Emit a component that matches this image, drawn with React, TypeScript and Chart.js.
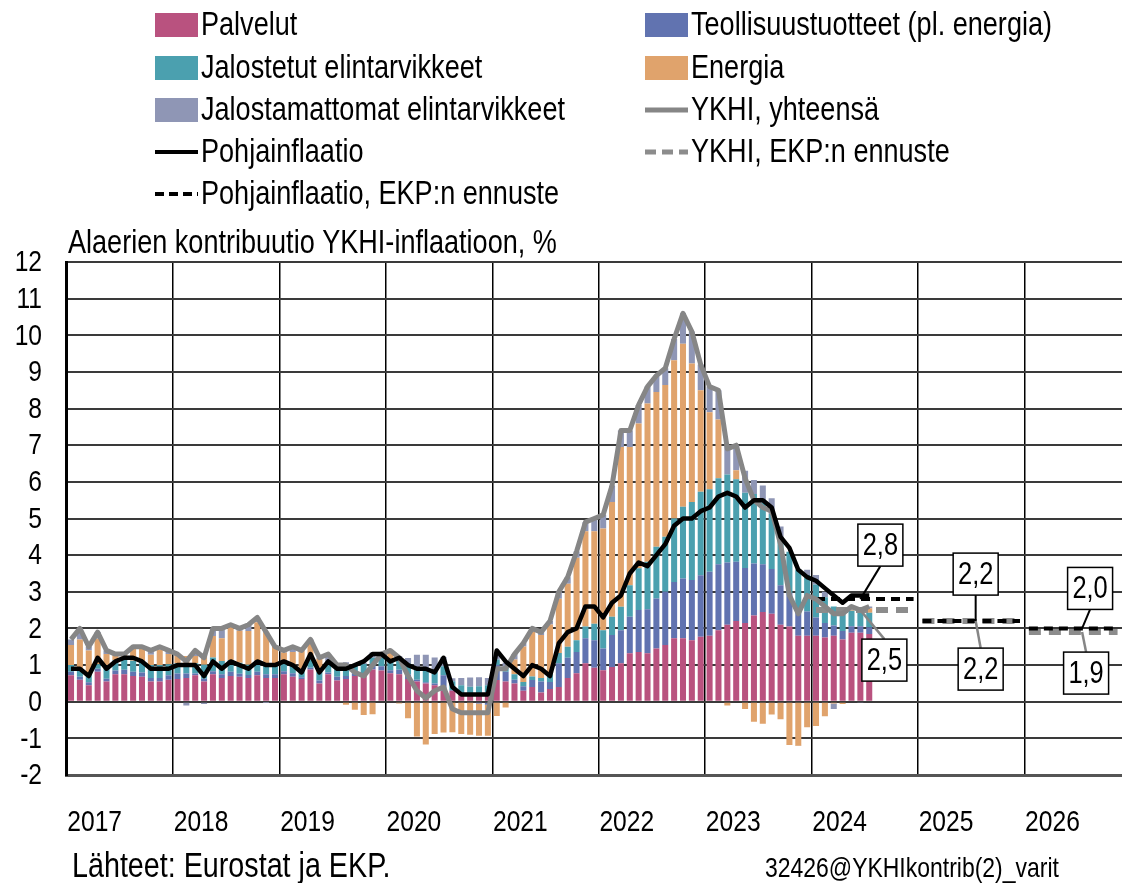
import React, { useEffect, useRef } from "react";
import { Chart, registerables } from "chart.js";

Chart.register(...registerables);

const FONT = '"Liberation Sans", Arial, sans-serif';
const NARROW = 0.82; // horizontal squeeze to imitate a narrow face

// ---- Data ----
const yearLabels = ["2017", "2018", "2019", "2020", "2021", "2022", "2023", "2024", "2025", "2026"];
const yTickValues = [-2, -1, 0, 1, 2, 3, 4, 5, 6, 7, 8, 9, 10, 11, 12];
const monthsShown = 119; // Jan 2017 .. Nov 2026

const palvelut = [
  0.72, 0.60, 0.45, 0.82, 0.55, 0.75, 0.75, 0.70, 0.68, 0.55, 0.55, 0.60,
  0.62, 0.65, 0.72, 0.55, 0.75, 0.65, 0.70, 0.68, 0.65, 0.72, 0.65, 0.65,
  0.75, 0.68, 0.62, 0.88, 0.50, 0.75, 0.58, 0.62, 0.70, 0.70, 0.88, 0.85,
  0.78, 0.75, 0.62, 0.55, 0.50, 0.45, 0.30, 0.30, 0.22, 0.18, 0.22, 0.25,
  0.59, 0.55, 0.50, 0.30, 0.40, 0.25, 0.35, 0.40, 0.65, 0.78, 1.05, 0.93,
  0.86, 0.95, 1.05, 1.32, 1.36, 1.32, 1.45, 1.55, 1.73, 1.73, 1.68, 1.77,
  1.80, 1.95, 2.10, 2.20, 2.15, 2.35, 2.45, 2.40, 2.10, 2.05, 1.80, 1.80,
  1.80, 1.75, 1.80, 1.70, 1.88, 1.88, 1.85,
];
const teollisuus = [
  0.10, 0.08, 0.08, 0.08, 0.08, 0.10, 0.12, 0.12, 0.12, 0.10, 0.10, 0.12,
  0.15, 0.12, 0.05, 0.08, 0.08, 0.10, 0.12, 0.08, 0.08, 0.10, 0.10, 0.10,
  0.08, 0.10, 0.05, 0.05, 0.08, 0.05, 0.10, 0.08, 0.08, 0.08, 0.10, 0.12,
  0.08, 0.12, 0.12, 0.05, 0.03, 0.05, 0.42, 0.02, 0.01, 0.01, -0.05, -0.08,
  0.41, 0.27, 0.10, 0.12, 0.19, 0.30, 0.19, 0.65, 0.55, 0.58, 0.68, 0.75,
  0.59, 0.87, 0.90, 1.00, 1.14, 1.20, 1.37, 1.45, 1.54, 1.63, 1.64, 1.68,
  1.75, 1.80, 1.70, 1.62, 1.50, 1.42, 1.30, 1.22, 1.08, 0.92, 0.76, 0.66,
  0.50, 0.40, 0.28, 0.23, 0.18, 0.18, 0.18,
];
const jalostetut = [
  0.18, 0.17, 0.22, 0.12, 0.27, 0.28, 0.28, 0.30, 0.31, 0.35, 0.35, 0.30,
  0.28, 0.28, 0.28, 0.38, 0.38, 0.36, 0.32, 0.30, 0.28, 0.30, 0.28, 0.25,
  0.25, 0.23, 0.22, 0.22, 0.23, 0.23, 0.20, 0.22, 0.22, 0.25, 0.22, 0.27,
  0.30, 0.30, 0.30, 0.33, 0.33, 0.33, 0.25, 0.24, 0.22, 0.22, 0.20, 0.20,
  0.15, 0.12, 0.15, 0.12, 0.10, 0.10, 0.24, 0.28, 0.30, 0.32, 0.32, 0.45,
  0.50, 0.50, 0.64, 0.86, 1.14, 1.30, 1.41, 1.50, 1.73, 1.96, 2.13, 2.28,
  2.25, 2.35, 2.40, 2.25, 2.05, 1.90, 1.68, 1.50, 1.28, 1.12, 1.05, 1.00,
  0.90, 0.70, 0.52, 0.45, 0.42, 0.44, 0.40,
];
const energia = [
  0.55, 0.85, 0.65, 0.70, 0.40, 0.15, 0.18, 0.35, 0.35, 0.28, 0.42, 0.28,
  0.21, 0.20, 0.20, 0.25, 0.58, 0.62, 0.90, 0.88, 0.92, 1.05, 0.88, 0.53,
  0.26, 0.35, 0.51, 0.51, 0.37, 0.02, -0.03, -0.08, -0.22, -0.36, -0.34, 0.02,
  0.18, -0.05, -0.45, -0.95, -1.17, -0.88, -0.84, -0.83, -0.88, -0.90, -0.88, -0.85,
  -0.39, -0.16, 0.40, 0.97, 1.22, 1.17, 1.33, 1.48, 1.72, 2.25, 2.60, 2.52,
  2.78, 3.13, 4.36, 3.77, 3.95, 4.32, 4.22, 4.14, 4.32, 4.45, 3.78, 2.77,
  2.10, 1.60, -0.10, 0.25, -0.20, -0.55, -0.60, -0.35, -0.48, -1.18, -1.20, -0.70,
  -0.66, -0.40, -0.05, -0.06, 0.03, 0.02, 0.12,
];
const jalostamattomat = [
  0.15, 0.30, 0.10, 0.18, 0.10, 0.02, 0.00, 0.03, 0.04, 0.12, 0.08, 0.10,
  0.04, -0.10, 0.15, -0.06, 0.21, 0.27, 0.06, 0.06, 0.17, 0.13, -0.01, -0.03,
  0.06, 0.14, 0.00, 0.04, 0.02, 0.25, 0.15, 0.16, 0.02, 0.03, 0.14, 0.04,
  0.06, 0.08, 0.15, 0.35, 0.42, 0.38, 0.25, 0.08, 0.20, 0.25, 0.25, 0.20,
  0.14, 0.12, 0.15, 0.09, 0.09, 0.08, 0.09, 0.19, 0.18, 0.17, 0.25, 0.35,
  0.37, 0.45, 0.45, 0.45, 0.51, 0.46, 0.45, 0.46, 0.58, 0.83, 0.87, 0.70,
  0.70, 0.80, 0.80, 0.68, 0.60, 0.38, 0.47, 0.43, 0.32, 0.00, -0.01, 0.14,
  0.26, 0.15, -0.15, 0.08, 0.09, -0.02, 0.05,
];
const ykhi = [
  1.7, 2.0, 1.5, 1.9, 1.4, 1.3, 1.3, 1.5, 1.5, 1.4, 1.5, 1.4,
  1.3, 1.1, 1.4, 1.2, 2.0, 2.0, 2.1, 2.0, 2.1, 2.3, 1.9, 1.5,
  1.4, 1.5, 1.4, 1.7, 1.2, 1.3, 1.0, 1.0, 0.8, 0.7, 1.0, 1.3,
  1.4, 1.2, 0.7, 0.3, 0.1, 0.3, 0.4, -0.2, -0.3, -0.3, -0.3, -0.3,
  0.9, 0.9, 1.3, 1.6, 2.0, 1.9, 2.2, 3.0, 3.4, 4.1, 4.9, 5.0,
  5.1, 5.9, 7.4, 7.4, 8.1, 8.6, 8.9, 9.1, 9.9, 10.6, 10.1, 9.2,
  8.6, 8.5, 6.9, 7.0, 6.1, 5.5, 5.3, 5.2, 4.3, 2.9, 2.4, 2.9,
  2.8, 2.6, 2.4, 2.4, 2.6, 2.5, 2.6,
];
const pohjainflaatio = [
  0.9, 0.9, 0.7, 1.2, 0.9, 1.1, 1.2, 1.2, 1.1, 0.9, 0.9, 0.9,
  1.0, 1.0, 1.0, 0.7, 1.1, 0.9, 1.1, 1.0, 0.9, 1.1, 1.0, 1.0,
  1.1, 1.0, 0.8, 1.3, 0.8, 1.1, 0.9, 0.9, 1.0, 1.1, 1.3, 1.3,
  1.1, 1.2, 1.0, 0.9, 0.9, 0.8, 1.2, 0.4, 0.2, 0.2, 0.2, 0.2,
  1.4, 1.1, 0.9, 0.7, 1.0, 0.9, 0.7, 1.6, 1.9, 2.0, 2.6, 2.6,
  2.3, 2.7, 2.9, 3.5, 3.8, 3.7, 4.0, 4.3, 4.8, 5.0, 5.0, 5.2,
  5.3, 5.6, 5.7, 5.6, 5.3, 5.5, 5.5, 5.3, 4.5, 4.2, 3.6, 3.4,
  3.3, 3.1, 2.9, 2.7, 2.9, 2.9, 2.9,
];
const forecastYears = ["2024", "2025", "2026"];
const ykhiEnnuste = [2.5, 2.2, 1.9];
const pohjaEnnuste = [2.8, 2.2, 2.0];

// ---- Styles ----
const C_PALV = "#B9527F";
const C_TEOL = "#6173B0";
const C_JAL = "#4BA0AF";
const C_ENER = "#E0A36C";
const C_JALM = "#8F96B5";
const C_GREY = "#868686";
const C_GREY_F = "#8C8C8C";

const monthLabels: string[] = [];
yearLabels.forEach((y) => {
  for (let m = 1; m <= 12; m++) monthLabels.push(`${y}-${String(m).padStart(2, "0")}`);
});
const labels = monthLabels.slice(0, monthsShown);

function expandForecast(values: number[]): (number | null)[] {
  const out: (number | null)[] = labels.map(() => null);
  forecastYears.forEach((fy, i) => {
    labels.forEach((l, j) => {
      if (l.startsWith(fy)) out[j] = values[i];
    });
  });
  return out;
}

const yearOf = (i: number) => Math.floor(i / 12);

const callouts = [
  { series: pohjaEnnuste, k: 0, month: 5, dx: 20, dy: -54, lead: "#000" },
  { series: ykhiEnnuste, k: 0, month: 5, dx: 24, dy: 50, lead: C_GREY },
  { series: pohjaEnnuste, k: 1, month: 6, dx: 0, dy: -47, lead: "#000" },
  { series: ykhiEnnuste, k: 1, month: 6, dx: 5, dy: 48, lead: C_GREY },
  { series: pohjaEnnuste, k: 2, month: 6, dx: 8, dy: -40, lead: "#000" },
  { series: ykhiEnnuste, k: 2, month: 6, dx: 4, dy: 41, lead: C_GREY },
];

const legendItems = [
  { col: 0, row: 0, text: "Palvelut", kind: "box", color: C_PALV },
  { col: 0, row: 1, text: "Jalostetut elintarvikkeet", kind: "box", color: C_JAL },
  { col: 0, row: 2, text: "Jalostamattomat elintarvikkeet", kind: "box", color: C_JALM },
  { col: 0, row: 3, text: "Pohjainflaatio", kind: "line", color: "#000" },
  { col: 0, row: 4, text: "Pohjainflaatio, EKP:n ennuste", kind: "dash", color: "#000" },
  { col: 1, row: 0, text: "Teollisuustuotteet (pl. energia)", kind: "box", color: C_TEOL },
  { col: 1, row: 1, text: "Energia", kind: "box", color: C_ENER },
  { col: 1, row: 2, text: "YKHI, yhteensä", kind: "line", color: C_GREY },
  { col: 1, row: 3, text: "YKHI, EKP:n ennuste", kind: "dash", color: C_GREY_F },
];

function narrowText(
  ctx: CanvasRenderingContext2D,
  text: string,
  x: number,
  y: number,
  size: number,
  align: CanvasTextAlign,
  baseline: CanvasTextBaseline
) {
  ctx.save();
  ctx.translate(x, y);
  ctx.scale(NARROW, 1);
  ctx.font = `${size}px ${FONT}`;
  ctx.textAlign = align;
  ctx.textBaseline = baseline;
  ctx.fillStyle = "#000";
  ctx.fillText(text, 0, 0);
  ctx.restore();
}

const decorPlugin = {
  id: "decor",
  afterDatasetsDraw(chart: any) {
    const ctx = chart.ctx;
    const xs = chart.scales.x;
    const ys = chart.scales.y;
    ctx.save();
    callouts.forEach((c) => {
      const idx = labels.indexOf(`${forecastYears[c.k]}-${String(c.month + 1).padStart(2, "0")}`);
      const v = c.series[c.k];
      const ax = xs.getPixelForValue(idx);
      const ay = ys.getPixelForValue(v);
      const w = 45, h = 42;
      const bx = ax + c.dx, by = ay + c.dy;
      const ey = c.dy < 0 ? by + h / 2 : by - h / 2;
      ctx.beginPath();
      ctx.strokeStyle = c.lead;
      ctx.lineWidth = c.lead === "#000" ? 2 : 2.5;
      ctx.setLineDash([]);
      ctx.moveTo(ax, ay);
      ctx.lineTo(bx, ey);
      ctx.stroke();
      ctx.fillStyle = "#fff";
      ctx.fillRect(bx - w / 2, by - h / 2, w, h);
      ctx.strokeStyle = "#000";
      ctx.lineWidth = 1.5;
      ctx.strokeRect(bx - w / 2, by - h / 2, w, h);
      narrowText(ctx, v.toFixed(1).replace(".", ","), bx, by + 1, 31, "center", "middle");
    });
    ctx.restore();
  },
  afterDraw(chart: any) {
    const ctx = chart.ctx;
    const xs = chart.scales.x;
    const ys = chart.scales.y;
    ctx.save();
    // y tick labels
    yTickValues.forEach((v) => {
      narrowText(ctx, String(v), 42, ys.getPixelForValue(v) + 1, 30, "right", "middle");
    });
    // x year labels
    yearLabels.forEach((yl, k) => {
      const idx = k * 12 + 3;
      if (idx < labels.length) narrowText(ctx, yl, xs.getPixelForValue(idx) - 3, 831, 30, "center", "alphabetic");
    });
    // legend
    const colX = [155, 645];
    const rowY = [25, 68, 110, 152, 194];
    legendItems.forEach((it) => {
      const x0 = colX[it.col];
      const y = rowY[it.row];
      if (it.kind === "box") {
        ctx.fillStyle = it.color;
        ctx.fillRect(x0, y - 12, 43, 24);
      } else {
        ctx.beginPath();
        ctx.strokeStyle = it.color;
        ctx.lineWidth = it.color === "#000" ? 4 : 5;
        ctx.setLineDash(it.kind === "dash" ? (it.color === "#000" ? [9, 5] : [11, 6]) : []);
        ctx.moveTo(x0, y);
        ctx.lineTo(x0 + 43, y);
        ctx.stroke();
        ctx.setLineDash([]);
      }
      narrowText(ctx, it.text, x0 + 46, y + 1, 33, "left", "middle");
    });
    // title
    narrowText(ctx, "Alaerien kontribuutio YKHI-inflaatioon, %", 68, 253, 33, "left", "alphabetic");
    // footer
    narrowText(ctx, "Lähteet: Eurostat ja EKP.", 72, 877, 35, "left", "alphabetic");
    narrowText(ctx, "32426@YKHIkontrib(2)_varit", 765, 877, 28, "left", "alphabetic");
    ctx.restore();
  },
};

export default function App() {
  const ref = useRef<HTMLCanvasElement | null>(null);

  useEffect(() => {
    document.body.style.margin = "0";
    const canvas = ref.current;
    if (!canvas) return;
    const barCommon = {
      type: "bar" as const,
      stack: "bars",
      order: 10,
      categoryPercentage: 1,
      barPercentage: 0.68,
      borderWidth: 0,
    };
    const lineCommon = {
      type: "line" as const,
      pointRadius: 0,
      tension: 0,
      borderJoinStyle: "round" as const,
    };
    const chart = new Chart(canvas, {
      type: "bar",
      data: {
        labels,
        datasets: [
          {
            ...lineCommon,
            label: "Pohjainflaatio",
            stack: "l1",
            data: pohjainflaatio,
            borderColor: "#000",
            borderWidth: 4.5,
            order: 1,
          },
          {
            ...lineCommon,
            label: "YKHI, yhteensä",
            stack: "l2",
            data: ykhi,
            borderColor: C_GREY,
            borderWidth: 5,
            order: 2,
          },
          {
            ...lineCommon,
            label: "Pohjainflaatio, EKP:n ennuste",
            stack: "l3",
            data: expandForecast(pohjaEnnuste),
            borderColor: "#000",
            borderWidth: 4,
            borderDash: [9, 6],
            borderJoinStyle: "miter",
            spanGaps: false,
            segment: {
              borderColor: (c: any) => (yearOf(c.p0DataIndex) !== yearOf(c.p1DataIndex) ? "rgba(0,0,0,0)" : "#000"),
            },
            order: 3,
          },
          {
            ...lineCommon,
            label: "YKHI, EKP:n ennuste",
            stack: "l4",
            data: expandForecast(ykhiEnnuste),
            borderColor: C_GREY_F,
            borderWidth: 6,
            borderDash: [12, 8],
            borderJoinStyle: "miter",
            spanGaps: false,
            segment: {
              borderColor: (c: any) => (yearOf(c.p0DataIndex) !== yearOf(c.p1DataIndex) ? "rgba(0,0,0,0)" : C_GREY_F),
            },
            order: 4,
          },
          { ...barCommon, label: "Palvelut", data: palvelut, backgroundColor: C_PALV },
          { ...barCommon, label: "Teollisuustuotteet (pl. energia)", data: teollisuus, backgroundColor: C_TEOL },
          { ...barCommon, label: "Jalostetut elintarvikkeet", data: jalostetut, backgroundColor: C_JAL },
          { ...barCommon, label: "Energia", data: energia, backgroundColor: C_ENER },
          { ...barCommon, label: "Jalostamattomat elintarvikkeet", data: jalostamattomat, backgroundColor: C_JALM },
        ] as any,
      },
      options: {
        responsive: false,
        animation: false,
        devicePixelRatio: 1,
        layout: { padding: { top: 262, left: 0, right: 0, bottom: 0 } },
        plugins: { legend: { display: false }, tooltip: { enabled: false } },
        scales: {
          x: {
            stacked: true,
            offset: true,
            afterFit: (s: any) => {
              s.height = 108;
            },
            grid: {
              offset: true,
              drawTicks: false,
              color: (c: any) => (c.index % 12 === 0 && c.index > 0 ? "#000" : "rgba(0,0,0,0)"),
              lineWidth: 1.5,
            },
            border: { display: true, color: "#555", width: 3 },
            ticks: { display: false, autoSkip: false, maxRotation: 0 },
          },
          y: {
            stacked: true,
            min: -2,
            max: 12,
            afterFit: (s: any) => {
              s.width = 66.6;
            },
            grid: { color: "#3a3a3a", lineWidth: 2, drawTicks: false },
            border: { display: true, color: "#000", width: 3 },
            ticks: { display: false, stepSize: 1, autoSkip: false },
          },
        },
      },
      plugins: [decorPlugin],
    });
    return () => chart.destroy();
  }, []);

  return <canvas ref={ref} width={1122} height={883} style={{ display: "block" }} />;
}
